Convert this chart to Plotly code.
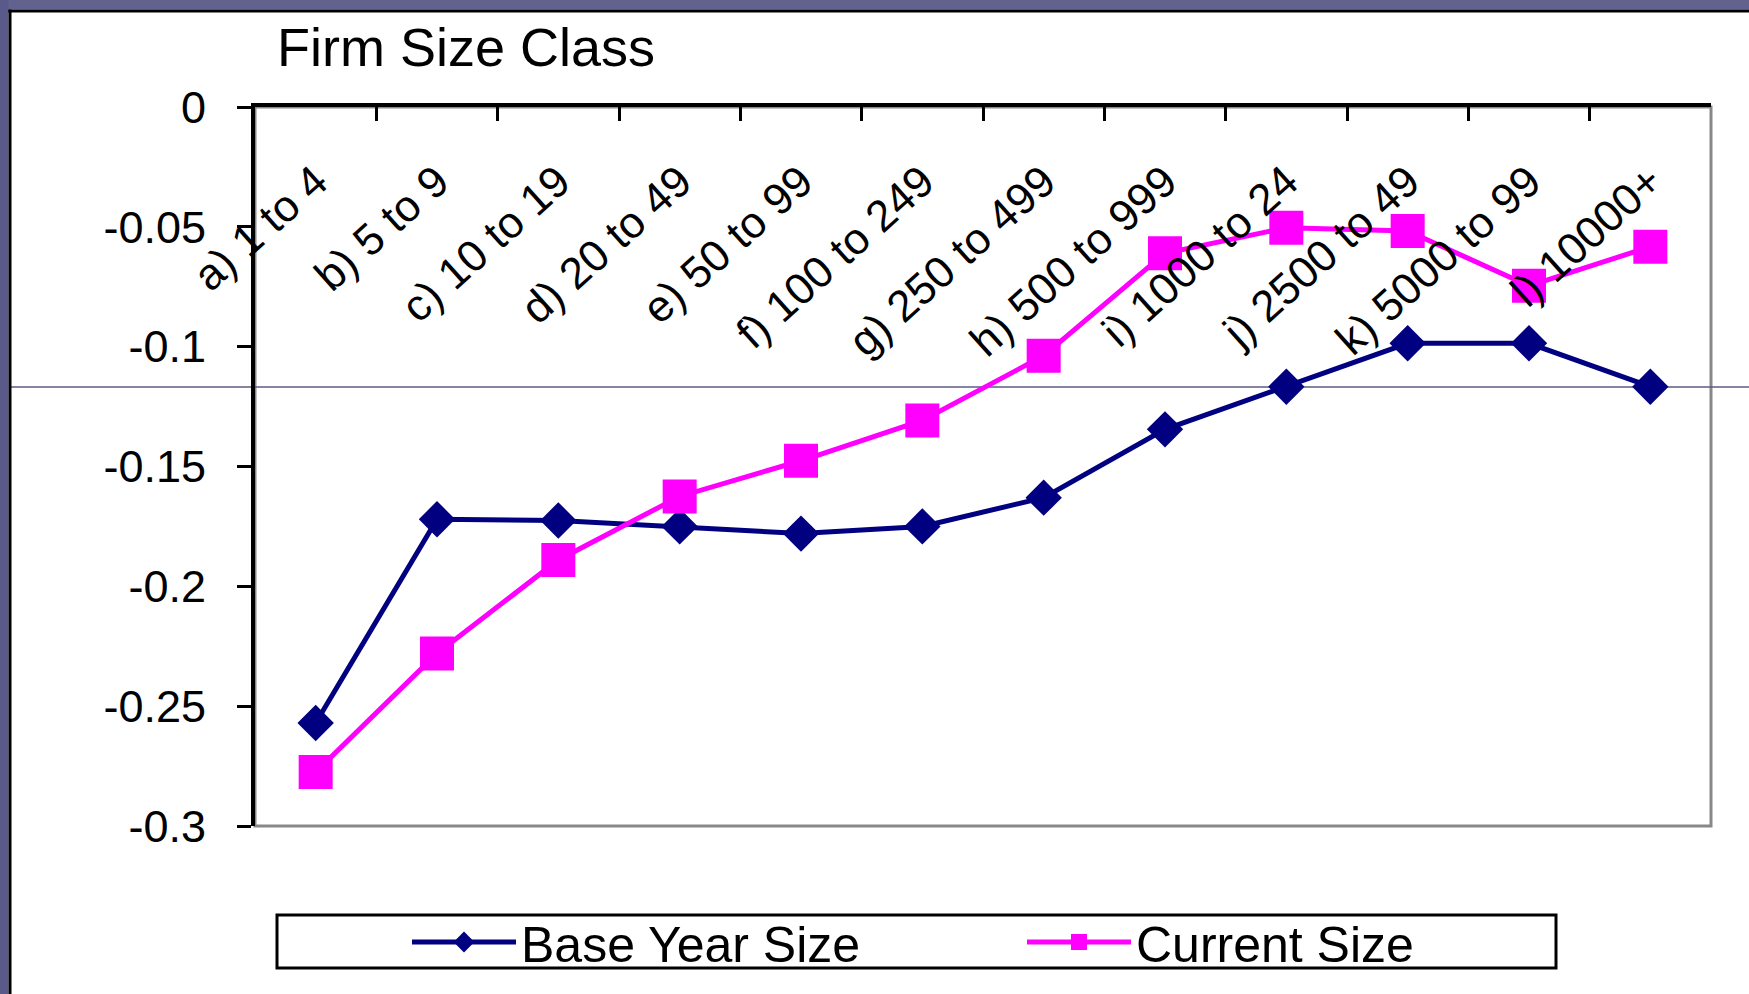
import plotly.graph_objects as go

# ---------------- data ----------------
categories = ["a) 1 to 4", "b) 5 to 9", "c) 10 to 19", "d) 20 to 49", "e) 50 to 99",
              "f) 100 to 249", "g) 250 to 499", "h) 500 to 999", "i) 1000 to 24",
              "j) 2500 to 49", "k) 5000 to 99", "l) 10000+"]
base_year_size = [-0.257, -0.172, -0.1725, -0.175, -0.178, -0.175, -0.163,
                  -0.1345, -0.1167, -0.0986, -0.0986, -0.1167]
current_size = [-0.2775, -0.228, -0.189, -0.1625, -0.1476, -0.1308, -0.1038,
                -0.061, -0.0504, -0.0517, -0.0746, -0.0583]
y_tick_values = [0, -0.05, -0.1, -0.15, -0.2, -0.25, -0.3]
y_tick_labels = ["0", "-0.05", "-0.1", "-0.15", "-0.2", "-0.25", "-0.3"]
series_names = ["Base Year Size", "Current Size"]

# ---------------- geometry (pixels) ----------------
W, H = 1749, 994
L, R, T, B = 255, 38, 107, 168
PW, PH = W - L - R, H - T - B


def px_x(px):
    return (px - L) / PW


def px_y(py):
    return (H - B - py) / PH


FONT = "Liberation Sans, Arial, sans-serif"
NAVY = "#000080"
MAGENTA = "#FF00FF"

fig = go.Figure()
fig.add_trace(go.Scatter(
    x=categories, y=base_year_size, name=series_names[0], mode="lines+markers",
    line=dict(color=NAVY, width=5),
    marker=dict(symbol="diamond", size=28, color=NAVY),
))
fig.add_trace(go.Scatter(
    x=categories, y=current_size, name=series_names[1], mode="lines+markers",
    line=dict(color=MAGENTA, width=5),
    marker=dict(symbol="square", size=34, color=MAGENTA),
))

n = len(categories)
shapes = [
    # plot frame right/bottom (grey)
    dict(type="rect", xref="paper", yref="paper", x0=0, x1=1, y0=0, y1=1,
         line=dict(color="#888888", width=3), layer="below"),
    # slide decoration: horizontal rule
    dict(type="line", xref="paper", yref="paper", x0=px_x(11), x1=px_x(W + 5),
         y0=px_y(387), y1=px_y(387), line=dict(color="#5c5c84", width=1.3), layer="below"),
    # slide decoration: top band
    dict(type="rect", xref="paper", yref="paper", x0=px_x(-5), x1=px_x(W + 5),
         y0=px_y(9.5), y1=px_y(-5), fillcolor="#62628f", line=dict(width=0)),
    dict(type="line", xref="paper", yref="paper", x0=px_x(8), x1=px_x(W + 5),
         y0=px_y(11), y1=px_y(11), line=dict(color="#000000", width=3)),
    # slide decoration: left band
    dict(type="rect", xref="paper", yref="paper", x0=px_x(-5), x1=px_x(8.5),
         y0=px_y(H + 5), y1=px_y(-5), fillcolor="#5a5a8a", line=dict(width=0)),
    dict(type="line", xref="paper", yref="paper", x0=px_x(10), x1=px_x(10),
         y0=px_y(H + 5), y1=px_y(9.5), line=dict(color="#000000", width=3)),
    # legend box
    dict(type="rect", xref="paper", yref="paper", x0=px_x(277), x1=px_x(1556),
         y0=px_y(968), y1=px_y(915), line=dict(color="#000000", width=3),
         fillcolor="white"),
]

fig.update_layout(
    width=W, height=H,
    margin=dict(l=L, r=R, t=T, b=B, pad=0),
    paper_bgcolor="white", plot_bgcolor="white",
    font=dict(family=FONT, color="black", size=40),
    title=dict(text="Firm Size Class", x=px_x(277), xref="paper", xanchor="left",
               y=1 - 47 / H, yanchor="middle",
               font=dict(family=FONT, size=54, color="black")),
    xaxis=dict(
        type="category", side="top", range=[-0.5, n - 0.5],
        showline=True, linecolor="black", linewidth=4,
        ticks="inside", tickson="boundaries", ticklen=14, tickwidth=3, tickcolor="black",
        showticklabels=False, showgrid=False, zeroline=False,
    ),
    xaxis2=dict(
        overlaying="x", anchor="free", position=px_y(146), side="bottom",
        range=[-0.5, n - 0.5], tickmode="array",
        tickvals=list(range(n)), ticktext=categories, tickangle=-42,
        ticks="", showline=False, showgrid=False, zeroline=False,
        tickfont=dict(family=FONT, size=44, color="black"),
    ),
    yaxis=dict(
        range=[-0.3, 0], tickmode="array", tickvals=y_tick_values, ticktext=y_tick_labels,
        showline=True, linecolor="black", linewidth=4,
        ticks="outside", ticklen=14, tickwidth=3, tickcolor="black",
        ticklabelstandoff=22,
        tickfont=dict(family=FONT, size=45, color="black"),
        showgrid=False, zeroline=False,
    ),
    shapes=shapes,
    showlegend=True,
    legend=dict(
        orientation="h", x=px_x(407), xanchor="left", y=px_y(942), yanchor="middle",
        bgcolor="rgba(0,0,0,0)", borderwidth=0,
        font=dict(family=FONT, size=50, color="black"),
        itemwidth=104, entrywidth=496, entrywidthmode="pixels",
    ),
)

# dummy trace so xaxis2 is rendered
fig.add_trace(go.Scatter(x=[0], y=[None], xaxis="x2", yaxis="y", showlegend=False,
                         hoverinfo="skip", mode="markers"))

fig.write_html("out.html", config={"displayModeBar": False},
               post_script="document.body.style.margin='0';document.body.style.padding='0';")
